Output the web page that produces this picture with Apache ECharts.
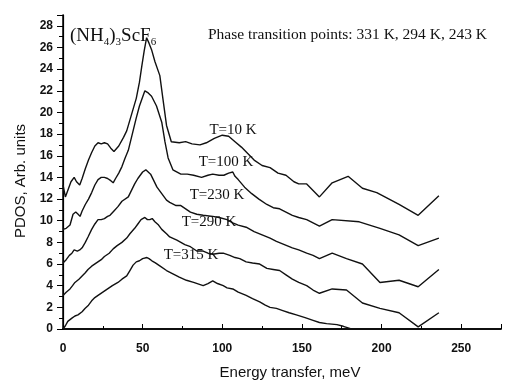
<!DOCTYPE html>
<html>
<head>
<meta charset="utf-8">
<script src="https://cdn.jsdelivr.net/npm/echarts@6/dist/echarts.min.js"></script>
<style>
  html, body { margin: 0; padding: 0; background: #fff; }
  #chart { width: 511px; height: 385px; }
</style>
</head>
<body>
<div id="chart"></div>
<script>
// PDOS curves, [energy meV, PDOS]
const T10 = [
  [0, 13.3], [1.5, 12.2], [3, 12.8], [5, 13.6], [7, 14], [8.5, 13.6], [10.5, 13.3], [12, 13.9],
  [14, 14.8], [16, 15.6], [18, 16.3], [20, 16.9], [22, 17.2], [24, 17.1], [26, 17.2], [28, 17.1],
  [30, 16.7], [32, 16.4], [35, 16.9], [38, 17.7], [40, 18.3], [43, 19.8], [46, 21.3], [48, 22.8],
  [49.5, 24.3], [51, 25.7], [52.5, 26.9], [54, 26.4], [55.6, 25.8], [57.7, 24.7], [60.8, 23.4],
  [62.7, 21.3], [65, 18.8], [68, 17.3], [73, 17.2], [77, 17.3], [81, 17.1], [86, 17], [90, 17.2],
  [95, 17.6], [100, 17.9], [104, 17.8], [108, 17.3], [112, 16.8], [116, 16.2], [120, 15.6],
  [125, 15.1], [130, 14.9], [135, 14.4], [140, 14.2], [145, 13.6], [148, 13.4], [153, 13.4],
  [161, 12.2], [169, 13.5], [179, 14.1], [188, 13], [197, 12.6], [211, 11.5], [223, 10.5], [236, 12.3]
]
const T100 = [
  [0, 9.2], [2, 9.3], [4.4, 9.6], [6.3, 10.6], [8, 10.8], [9.5, 10.6], [10.7, 10.4], [12, 10.9],
  [14, 11.5], [16, 12], [18, 12.6], [20, 13.3], [22, 13.8], [24, 14], [26, 14], [28, 13.9],
  [30, 13.7], [31.5, 13.5], [33, 13.9], [35, 14.4], [37, 15], [39, 15.8], [41, 16.5], [44, 18.3],
  [46, 19.5], [48, 20.6], [51.4, 22], [53.5, 21.8], [55.6, 21.5], [58.7, 20.6], [62, 19.1],
  [64, 17.3], [66, 15.8], [69, 14.7], [74, 14.3], [78, 14.3], [82, 14.2], [87, 14], [91, 14.2],
  [94, 14.3], [98, 14.2], [101, 14.2], [104, 14.4], [106.6, 14.5], [108, 14.1], [110, 13.8],
  [114, 13.1], [118.5, 12.5], [123, 12], [128, 11.5], [132, 11.2], [136, 11.1], [140, 10.8],
  [144, 10.5], [148, 10.3], [153, 10.1], [161, 9.5], [169, 10.1], [186, 9.9], [199, 9.3],
  [211, 8.7], [223, 7.7], [236, 8.4]
]
const T230 = [
  [0, 6.1], [2, 6.4], [4, 6.8], [5.6, 7], [7, 7.3], [9, 7.2], [10.5, 7.3], [12, 7.5], [14, 8],
  [15.7, 8.5], [18, 9.2], [20, 9.7], [22, 10.1], [24, 10.1], [26, 10.2], [28, 10.4], [29.5, 10.5],
  [32, 10.9], [34.5, 11.3], [37, 11.8], [41, 12.2], [43, 12.8], [45, 13.4], [47, 13.9], [50, 14.5],
  [52, 14.7], [53, 14.7], [55, 14.3], [56, 14], [59, 13.1], [62, 12.5], [65, 11.9], [67, 11.7],
  [71, 11.4], [74, 11.4], [77, 11.1], [80, 10.8], [84, 10.6], [88, 10.5], [94, 10.4], [98, 10.3],
  [103, 10.1], [106.6, 9.8], [110, 9.6], [115, 9.4], [120, 9], [125, 8.7], [130, 8.4], [134, 8.1],
  [139, 7.8], [144, 7.5], [148, 7.3], [153, 7], [157, 6.8], [161, 6.5], [169, 7], [178, 6.5],
  [188, 6], [199, 4.3], [211, 4.5], [223, 3.9], [236, 5.5]
]
const T290 = [
  [0, 3.1], [2, 3.4], [4.4, 3.7], [6, 4], [7.5, 4.3], [10, 4.6], [12, 4.9], [14, 5.2], [15.7, 5.5],
  [18, 5.8], [21, 6.1], [24, 6.4], [26, 6.7], [29, 7], [31.5, 7.4], [34, 7.7], [37, 8], [40, 8.4],
  [42, 8.8], [45, 9.3], [47, 9.7], [49, 10.1], [51.4, 10.3], [53, 10.1], [54.5, 10.1], [56, 10.2],
  [57.7, 9.9], [60, 9.6], [62, 9.2], [65, 8.8], [67, 8.5], [71.5, 8.2], [74, 8], [76.5, 7.8],
  [80, 7.6], [84, 7.2], [88, 7.2], [91, 7], [94, 6.9], [98, 7], [100.6, 7], [104.7, 6.8], [108, 6.6],
  [111, 6.5], [115, 6.2], [119, 6.1], [123.5, 6], [128, 5.6], [132, 5.5], [136, 5.4], [140, 5],
  [144, 4.6], [148, 4.3], [153, 4], [157, 3.6], [161, 3.3], [169, 3.7], [178, 3.6], [188, 2.4],
  [199, 1.9], [211, 1.5], [223, 0.2], [236, 1.5]
]
const T315 = [
  [0, 0], [1.5, 0.3], [3, 0.7], [5.6, 1], [7.5, 1.2], [9.4, 1.3], [12, 1.6], [13.8, 1.9], [16, 2.2],
  [18, 2.6], [20, 2.9], [22, 3.1], [25, 3.4], [28, 3.7], [31, 4], [34.5, 4.3], [37, 4.6], [40, 4.9],
  [42, 5.4], [44, 5.9], [46, 6.2], [48, 6.3], [50, 6.5], [52.7, 6.6], [54, 6.5], [55.8, 6.3],
  [58, 6.1], [61, 5.8], [65, 5.4], [69, 5.1], [73, 4.8], [77.5, 4.5], [82, 4.3], [88, 4], [91, 4.2],
  [94, 4.45], [97, 4.2], [100.6, 4], [103, 3.8], [106.6, 3.7], [110, 3.4], [115, 3.1], [119, 2.8],
  [123.5, 2.5], [127, 2.2], [130, 2], [134, 1.9], [138, 1.7], [142, 1.5], [146.5, 1.3], [152, 1.05],
  [157, 0.8], [161, 0.6], [165.5, 0.5], [172, 0.4], [176, 0.25], [179, 0.1], [181, 0]
]

const SERIES = [T10, T100, T230, T290, T315]
const LABELS = ['T=10 K', 'T=100 K', 'T=230 K', 'T=290 K', 'T=315 K']
// label anchor points in pixels
const LABEL_POS = [[233, 130], [226, 162], [217, 195], [209, 222], [191, 255]]

const SERIF = '"Liberation Serif", "DejaVu Serif", serif'
const SANS = '"Liberation Sans", Arial, sans-serif'

let chart = echarts.init(document.getElementById('chart'))

let axisLine = { show: true, lineStyle: { color: '#000', width: 1.5 } }
let tickLabel = { fontSize: 12, fontWeight: 'bold', color: '#111', fontFamily: SANS, showMaxLabel: false }

let opts = {
  animation: false,
  grid: { left: 63, right: 10, top: 15, bottom: 51 },
  xAxis: [
    {
      type: 'value', min: 0, max: 275, interval: 50, position: 'bottom',
      axisLine: axisLine,
      axisTick: { inside: true, length: 5, lineStyle: { color: '#000' } },
      minorTick: { show: true, splitNumber: 2, length: 3, lineStyle: { color: '#000' } },
      splitLine: { show: false },
      axisLabel: Object.assign({ margin: 14 }, tickLabel),
      name: 'Energy transfer, meV', nameLocation: 'middle', nameGap: 36,
      nameTextStyle: { fontSize: 15, color: '#111', fontFamily: SANS, padding: [0, 0, 0, 16] }
    },
    {
      type: 'value', min: 0, max: 275, interval: 50, position: 'top',
      axisLine: axisLine,
      axisTick: { inside: false, length: 4, lineStyle: { color: '#000' } },
      minorTick: { show: true, splitNumber: 2, length: 2, lineStyle: { color: '#000' } },
      splitLine: { show: false },
      axisLabel: { show: false }
    }
  ],
  yAxis: [
    {
      type: 'value', min: 0, max: 29, interval: 2, position: 'left',
      axisLine: axisLine,
      axisTick: { inside: false, length: 6, lineStyle: { color: '#000' } },
      minorTick: { show: true, splitNumber: 2, length: 4, lineStyle: { color: '#000' } },
      splitLine: { show: false },
      axisLabel: Object.assign({ margin: 10 }, tickLabel),
      name: 'PDOS, Arb. units', nameLocation: 'middle', nameGap: 34,
      nameTextStyle: { fontSize: 15, color: '#111', fontFamily: SANS, padding: [0, 18, 0, 0] }
    },
    {
      type: 'value', min: 0, max: 29, interval: 2, position: 'right',
      axisLine: { show: true, lineStyle: { color: '#000', width: 1.2 } },
      axisTick: { inside: true, length: 3, lineStyle: { color: '#000' } },
      splitLine: { show: false },
      axisLabel: { show: false }
    }
  ],
  series: SERIES.map((d, i) => ({
    name: LABELS[i],
    type: 'line',
    data: d,
    showSymbol: false,
    silent: true,
    lineStyle: { color: '#111', width: 1.4 }
  })),
  graphic: [
    {
      type: 'text', x: 70, y: 25,
      style: {
        text: '(NH{s|4}){s|3}ScF{s|6}',
        font: '19px ' + SERIF,
        fill: '#111',
        rich: {
          s: { fontSize: 11, fontFamily: SERIF, fill: '#111', padding: [12, 0, 0, 0] }
        }
      }
    },
    {
      type: 'text', x: 208, y: 35,
      style: {
        text: 'Phase transition points: 331 K, 294 K, 243 K',
        font: '15.5px ' + SERIF, fill: '#111', textVerticalAlign: 'middle'
      }
    }
  ].concat(LABELS.map((t, i) => ({
    type: 'text', x: LABEL_POS[i][0], y: LABEL_POS[i][1],
    style: {
      text: t, font: '15px ' + SERIF, fill: '#111',
      textAlign: 'center', textVerticalAlign: 'middle'
    }
  })))
}

chart.setOption(opts)
</script>
</body>
</html>
